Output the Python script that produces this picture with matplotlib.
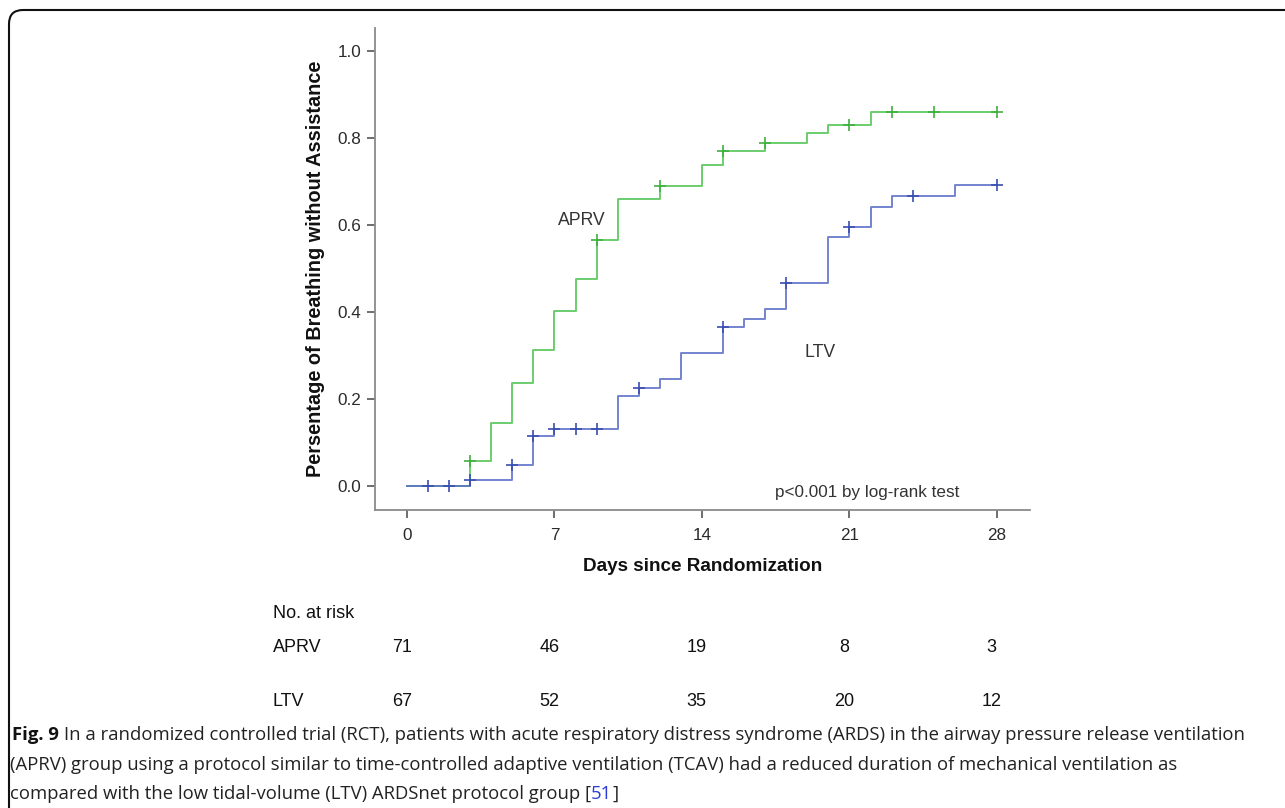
import numpy as np
import matplotlib
matplotlib.use("Agg")
import matplotlib.pyplot as plt
import matplotlib.transforms as mtransforms
from matplotlib.patches import FancyBboxPatch

W, H = 1285, 808

# Kaplan-Meier style step data
aprv_days = [0, 3, 4, 5, 6, 7, 8, 9, 10, 12, 14, 15, 17, 19, 20, 22, 28]
aprv_frac = [0, 0.058, 0.146, 0.236, 0.313, 0.402, 0.476, 0.566, 0.659, 0.690,
             0.738, 0.771, 0.789, 0.811, 0.831, 0.859, 0.859]
aprv_censor = [3, 9, 12, 15, 17, 21, 23, 25, 28]

ltv_days = [0, 3, 5, 6, 7, 10, 11, 12, 13, 15, 16, 17, 18, 20, 21, 22, 23, 26, 28]
ltv_frac = [0, 0.015, 0.048, 0.115, 0.132, 0.207, 0.225, 0.246, 0.305, 0.365,
            0.385, 0.406, 0.467, 0.573, 0.595, 0.642, 0.667, 0.692, 0.692]
ltv_censor = [1, 2, 3, 5, 6, 7, 8, 9, 11, 15, 18, 21, 24, 28]

x_ticks = [0, 7, 14, 21, 28]
y_ticks = [0.0, 0.2, 0.4, 0.6, 0.8, 1.0]

risk_groups = ["APRV", "LTV"]
risk_aprv = [71, 46, 19, 8, 3]
risk_ltv = [67, 52, 35, 20, 12]

caption_lines = [
    "In a randomized controlled trial (RCT), patients with acute respiratory distress syndrome (ARDS) in the airway pressure release ventilation",
    "(APRV) group using a protocol similar to time-controlled adaptive ventilation (TCAV) had a reduced duration of mechanical ventilation as",
    "compared with the low tidal-volume (LTV) ARDSnet protocol group [",
]

green = "#5cc85c"
blue = "#5a6ec8"
blue_dark = "#3a4eb0"
txt = "#333333"
sans = ["Liberation Sans", "DejaVu Sans"]
cap_font = ["Open Sans", "DejaVu Sans"]


def at(days, frac, t):
    i = np.searchsorted(days, t, side="right") - 1
    return np.asarray(frac)[i]


fig = plt.figure(figsize=(W / 100, H / 100), dpi=100)
ax = fig.add_axes([375 / W, 1 - 510 / H, 655 / W, 482 / H])

ax.step(aprv_days, aprv_frac, where="post", color=green, lw=1.4, alpha=0.9)
ax.step(ltv_days, ltv_frac, where="post", color=blue, lw=1.4, alpha=0.85)
ax.plot(aprv_censor, at(aprv_days, aprv_frac, aprv_censor), "+", color="#3fb03f",
        ms=9, mew=1.2, ls="none")
ax.plot(ltv_censor, at(ltv_days, ltv_frac, ltv_censor), "+", color=blue_dark,
        ms=9, mew=1.2, ls="none")

ax.set_xlim(-1.52, 29.57)
ax.set_ylim(-0.055, 1.053)
ax.set_xticks(x_ticks)
ax.set_yticks(y_ticks)
ax.set_yticklabels(["%.1f" % v for v in y_ticks])
for s in ["top", "right"]:
    ax.spines[s].set_visible(False)
for s in ["left", "bottom"]:
    ax.spines[s].set_color("#8a8a8a")
    ax.spines[s].set_linewidth(1.3)
ax.tick_params(axis="both", colors="#555555", labelcolor="#2a2a2a", length=6,
               width=1.2, labelsize=12.3)
ax.tick_params(axis="x", pad=7)
ax.tick_params(axis="y", pad=4)
for lab in ax.get_xticklabels() + ax.get_yticklabels():
    lab.set_family(sans)

ax.set_ylabel("Persentage of Breathing without Assistance", family=sans,
              fontsize=14.3, fontweight="bold", color="#111111")
ax.yaxis.set_label_coords(-0.076, 0.5)
ax.set_xlabel("Days since Randomization", family=sans, fontsize=13.6,
              fontweight="bold", color="#111111")
ax.xaxis.set_label_coords(0.5, -0.100)

ax.text(8.3, 0.611, "APRV", family=sans, fontsize=12.7, color=txt,
        ha="center", va="center")
ax.text(19.6, 0.308, "LTV", family=sans, fontsize=12.7, color=txt,
        ha="center", va="center")
ax.text(21.83, -0.014, "p<0.001 by log-rank test", family=sans, fontsize=12.3,
        color=txt, ha="center", va="center")

# number at risk table
tr = mtransforms.blended_transform_factory(ax.transData, fig.transFigure)
fig.text(273 / W, 1 - 613 / H, "No. at risk", family=sans, fontsize=13,
         color="#111111", va="center")
for name, row, ypx in zip(risk_groups, [risk_aprv, risk_ltv], [648, 702]):
    fig.text(273 / W, 1 - ypx / H, name, family=sans, fontsize=13,
             color="#111111", va="center")
    for d, n in zip(x_ticks, row):
        ax.text(d - 0.25, 1 - ypx / H, str(n), transform=tr, family=sans,
                fontsize=13, color="#111111", ha="center", va="center")

# outer rounded frame
px = mtransforms.Affine2D().scale(1 / W, 1 / H) + fig.transFigure
frame = FancyBboxPatch((9, -40), 1400, H - 10 + 40,
                       boxstyle="round,pad=0,rounding_size=14",
                       transform=px, fill=False, ec="#111111", lw=1.5)
fig.patches.append(frame)

# caption
fig.canvas.draw()
rend = fig.canvas.get_renderer()
inv = fig.transFigure.inverted()
cap_y = [735, 765, 794]
fs = 13.3
t0 = fig.text(12 / W, 1 - cap_y[0] / H, "Fig. 9 ", family=cap_font, fontsize=fs,
              fontweight="bold", color="#111111", va="center")
bb = t0.get_window_extent(rend)
x1 = inv.transform((bb.x1, bb.y0))[0]
fig.text(x1, 1 - cap_y[0] / H, caption_lines[0], family=cap_font, fontsize=fs,
         color="#222222", va="center")
fig.text(10 / W, 1 - cap_y[1] / H, caption_lines[1], family=cap_font, fontsize=fs,
         color="#222222", va="center")
t3 = fig.text(10 / W, 1 - cap_y[2] / H, caption_lines[2], family=cap_font,
              fontsize=fs, color="#222222", va="center")
bb = t3.get_window_extent(rend)
x3 = inv.transform((bb.x1, bb.y0))[0]
t4 = fig.text(x3, 1 - cap_y[2] / H, "51", family=cap_font, fontsize=fs,
              color="#2b3bd6", va="center")
bb = t4.get_window_extent(rend)
x4 = inv.transform((bb.x1, bb.y0))[0]
fig.text(x4, 1 - cap_y[2] / H, "]", family=cap_font, fontsize=fs,
         color="#222222", va="center")

fig.savefig("out.png", dpi=100)
